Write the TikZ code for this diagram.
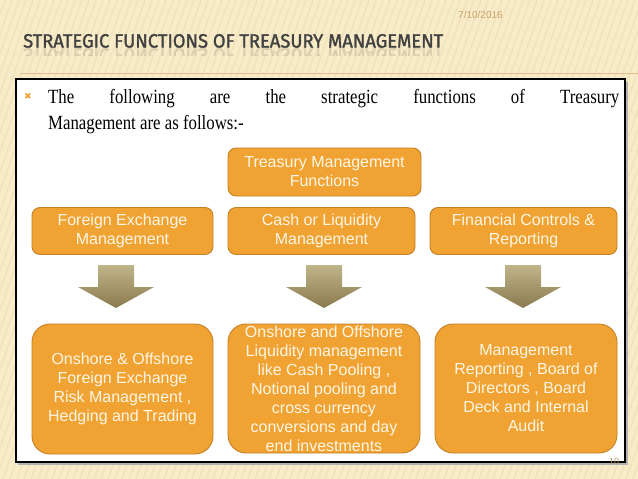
\documentclass[tikz,border=0pt]{standalone}
\usepackage{fontspec}
\setmainfont{Liberation Serif}
\newfontfamily\boxfont{Liberation Sans}
\newfontfamily\titlefont[FakeBold=1.6]{Fira Sans}
\newfontfamily\symfont{DejaVu Sans}
\usetikzlibrary{calc}
\definecolor{bgcream}{RGB}{247,235,200}
\definecolor{bgstripe}{RGB}{237,221,180}
\definecolor{boxfill}{RGB}{240,163,50}
\definecolor{boxline}{RGB}{196,128,36}
\definecolor{boxtext}{RGB}{255,246,230}
\definecolor{titlegray}{RGB}{65,65,65}
\definecolor{datetan}{RGB}{200,162,105}
\definecolor{arrowlight}{RGB}{192,180,138}
\definecolor{arrowdark}{RGB}{138,122,78}
\tikzset{
  fnbox/.style={draw=boxline, line width=0.9pt, fill=boxfill, rounded corners=8pt,
    text=boxtext, font=\boxfont\fontsize{16}{19}\selectfont, align=center, inner sep=2pt},
  topbox/.style={fnbox, minimum height=47pt},
  bigbox/.style={fnbox, rounded corners=18pt},
  blockarrow/.style={top color=arrowlight, bottom color=arrowdark, draw=none},
  bodytext/.style={anchor=base west, inner sep=0pt, font=\fontsize{16.8}{26}\selectfont},
}
\begin{document}
\begin{tikzpicture}[x=1pt,y=-1pt]
\useasboundingbox (0,0) rectangle (638,479);
% background
\fill[bgcream] (0,0) rectangle (638,479);
\begin{scope}
\clip (0,0) rectangle (638,479);
\foreach \i in {-200,-193,...,640}{
  \draw[bgstripe, line width=1.2pt, opacity=0.7] (\i,479) -- (\i+170,0);
}
\end{scope}
\draw[bgstripe!70!brown, line width=0.5pt] (20,73) -- (638,73);
% date and title
\node[text=datetan, font=\boxfont\fontsize{10}{12}\selectfont, anchor=west, inner sep=0pt] (date) at (458,15) {7/10/2016};
\node[text=titlegray, anchor=south west, inner sep=0pt] (title) at (23,48)
  {\resizebox{420pt}{13.5pt}{\titlefont STRATEGIC FUNCTIONS OF TREASURY MANAGEMENT}};
\begin{scope}
\clip (0,48) rectangle (638,55);
\node[text=titlegray, anchor=south west, inner sep=0pt, yscale=-1, opacity=0.13] (titlerefl) at (23,48)
  {\resizebox{420pt}{13.5pt}{\titlefont STRATEGIC FUNCTIONS OF TREASURY MANAGEMENT}};
\end{scope}
% panel
\fill[black!30] (18,82) rectangle (628,465);
\fill[white] (16,79) rectangle (625,462);
\draw[black, line width=1.6pt] (16,79) rectangle (625,462);
% bullet text
\node[text=boxfill, font=\symfont\fontsize{9}{10}\selectfont, inner sep=0pt] (bullet) at (28,96) {✖};
\node[bodytext] (line1) at (48,103)
  {\scalebox{1}[1.2]{\makebox[571pt][s]{The following are the strategic functions of Treasury}}};
\node[bodytext] (line2) at (48,129)
  {\scalebox{1}[1.2]{Management are as follows:-}};
% boxes
\node[topbox, minimum width=193pt, minimum height=48pt] (top) at (324.5,172) {Treasury Management\\Functions};
\node[topbox, minimum width=181pt] (fx) at (122.5,231) {Foreign Exchange\\Management};
\node[topbox, minimum width=187pt] (cash) at (321.5,231) {Cash or Liquidity\\Management};
\node[topbox, minimum width=187pt] (fin) at (523.5,231) {Financial Controls \&\\Reporting};
\node[bigbox, minimum width=181pt, minimum height=130pt] (bl) at (122.5,389)
  {Onshore \& Offshore\\Foreign Exchange\\Risk Management ,\\Hedging and Trading};
\node[bigbox, minimum width=192pt, minimum height=129pt] (bm) at (324,388.5) {};
\begin{scope}
\clip[rounded corners=18pt] (bm.south west) rectangle (bm.north east);
\node[text=boxtext, font=\boxfont\fontsize{16}{19}\selectfont, align=center, anchor=north, inner sep=0pt] (bmtext) at (324,326)
  {Onshore and Offshore\\Liquidity management\\like Cash Pooling ,\\Notional pooling and\\cross currency\\conversions and day\\end investments};
\end{scope}
\node[bigbox, minimum width=182pt, minimum height=129pt] (br) at (526,388.5)
  {Management\\Reporting , Board of\\Directors , Board\\Deck and Internal\\Audit};
% block arrows
\foreach \src/\dst/\cx in {fx/bl/116, cash/bm/324, fin/br/523}{
  \coordinate (t-\src) at (\cx,265);
  \shade[blockarrow] ($(t-\src)+(-18,0)$) -- ($(t-\src)+(18,0)$) -- ($(t-\src)+(18,22)$)
    -- ($(t-\src)+(38,22)$) -- ($(t-\src)+(0,43)$) -- ($(t-\src)+(-38,22)$)
    -- ($(t-\src)+(-18,22)$) -- cycle;
}
% page number
\node[text=datetan!80!gray, font=\boxfont\fontsize{9}{10}\selectfont] (pnum) at (614,461) {10};
\end{tikzpicture}
\end{document}
